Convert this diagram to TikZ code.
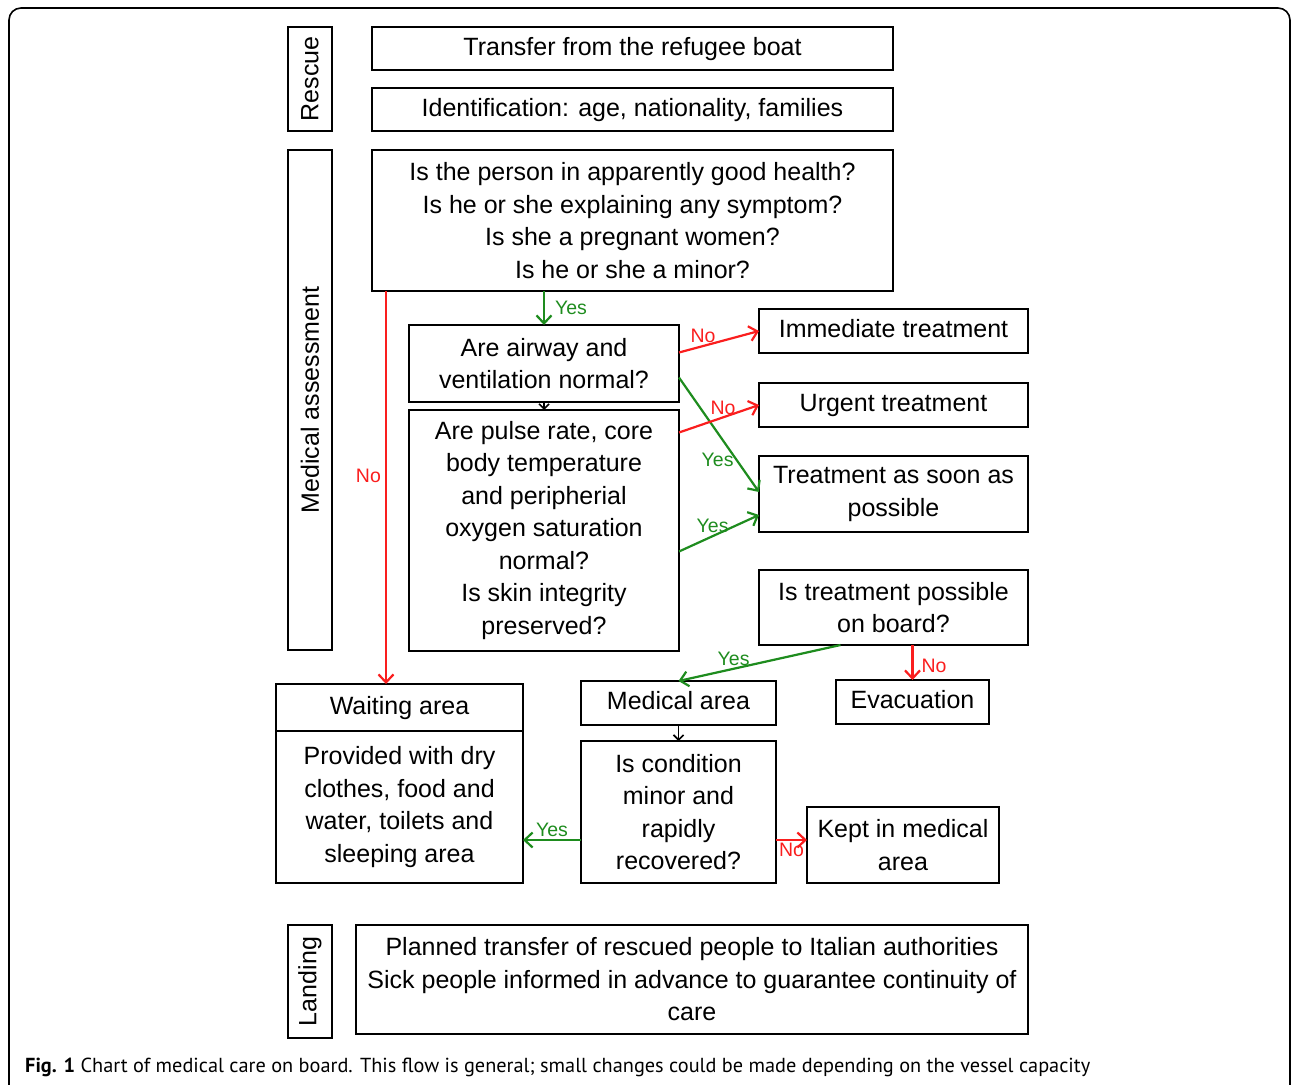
\documentclass[tikz,border=0pt]{standalone}
\usepackage{fontspec}
\setmainfont{Liberation Sans}
\newfontfamily\capfont{PT Sans}
\usetikzlibrary{arrows.meta,positioning}

\definecolor{nored}{RGB}{250,30,30}
\definecolor{yesgreen}{RGB}{30,140,30}

\begin{document}
\begin{tikzpicture}[x=1pt,y=-1pt,>={Straight Barb[length=8pt,width=15pt]},
        font=\fontsize{25}{32.5}\selectfont]
        \tikzstyle{box}=[draw, line width=2.2pt, align=center, inner sep=0pt, outer sep=0pt]
        \tikzstyle{side}=[box, rotate=90, minimum height=44pt]
        \tikzstyle{lbl}=[font=\fontsize{19.5}{21}\selectfont, inner sep=2pt]
        \tikzstyle{no}=[draw=nored, line width=2.2pt, ->]
        \tikzstyle{yes}=[draw=yesgreen, line width=2.2pt, ->]

        \useasboundingbox (0,0) rectangle (1292,1084);
        \begin{scope}
            \clip (0,0) rectangle (1292,1084);
            \draw[line width=1.6pt, rounded corners=12pt] (9,8) rectangle (1290,1110);
        \end{scope}

        % phases
        \node[side, minimum width=104pt] (resc) at (310,79)    {Rescue};
        \node[side, minimum width=500pt] (asse) at (310,400)   {Medical assessment};
        \node[side, minimum width=113pt] (land) at (310,981.5) {Landing};

        \node[box, minimum width=521pt, minimum height=43pt]  (tr)    at (632.5,48.5) {Transfer from the refugee boat\strut};
        \node[box, minimum width=521pt, minimum height=43pt]  (ident) [below=18pt of tr] {Identification: age, nationality, families\strut};
        \node[box, minimum width=521pt, minimum height=141pt] (q)     [below=19pt of ident]
            {Is the person in apparently good health?\\Is he or she explaining any symptom?\\Is she a pregnant women?\\Is he or she a minor?};

        \node[box, minimum width=270pt, minimum height=77pt]  (air)   at (544,363.5) {Are airway and\\ventilation normal?};
        \node[box, minimum width=270pt, minimum height=241pt] (pulse) at (544,530.5)
            {Are pulse rate, core\\body temperature\\and peripherial\\oxygen saturation\\normal?\\Is skin integrity\\preserved?};

        \node[box, minimum width=269pt, minimum height=44pt]  (imm)   at (893.5,331)   {Immediate treatment\strut};
        \node[box, minimum width=269pt, minimum height=44pt]  (urg)   at (893.5,405)   {Urgent treatment\strut};
        \node[box, minimum width=269pt, minimum height=76pt]  (asap)  at (893.5,494)   {Treatment as soon as\\possible};
        \node[box, minimum width=269pt, minimum height=75pt]  (board) at (893.5,607.5) {Is treatment possible\\on board?};

        \node[box, minimum width=247pt, minimum height=47pt]  (wait)  at (399.5,707.5) {Waiting area\strut};
        \node[box, minimum width=247pt, minimum height=152pt] (waitb) [below=0pt of wait]
            {Provided with dry\\clothes, food and\\water, toilets and\\sleeping area};
        \node[box, minimum width=195pt, minimum height=44pt]  (marea) at (678.5,703)   {Medical area\strut};
        \node[box, minimum width=153pt, minimum height=44pt]  (evac)  at (912.5,702)   {Evacuation\strut};
        \node[box, minimum width=195pt, minimum height=142pt] (cond)  at (678.5,812)   {Is condition\\minor and\\rapidly\\recovered?};
        \node[box, minimum width=192pt, minimum height=76pt]  (kept)  at (903,845)     {Kept in medical\\area};

        \node[box, minimum width=672pt, minimum height=109pt] (plan)  at (692,979.5)
            {Planned transfer of rescued people to Italian authorities\\Sick people informed in advance to guarantee continuity of\\care};

        \node[anchor=west, inner sep=0pt, font=\capfont\fontsize{20.3}{22}\selectfont] (cap) at (25,1067)
            {\textbf{Fig. 1} Chart of medical care on board. This flow is general; small changes could be made depending on the vessel capacity};

        \path
            ([xshift=14pt]q.south west) edge[no] node[lbl, pos=0.47, left, xshift=-2pt, text=nored] {No} ([xshift=14pt]q.south west |- wait.north)
            (q.south -| air.north) edge[yes] node[lbl, right, xshift=8pt, text=yesgreen] {Yes} (air.north)

            ([yshift=11pt]air.east)    edge[no]  node[lbl, pos=0.3, above, text=nored] {No} (imm.west)
            ([yshift=-14pt]air.east)   edge[yes] node[lbl, pos=0.72, left, text=yesgreen] {Yes} ([yshift=2pt]asap.west)
            ([yshift=98pt]pulse.east)  edge[no]  node[lbl, pos=0.55, above, text=nored] {No} (urg.west)
            ([yshift=-21pt]pulse.east) edge[yes] node[lbl, pos=0.42, above, text=yesgreen] {Yes} ([yshift=-21pt]asap.west)

            ([xshift=-53pt]board.south) edge[yes] node[lbl, pos=0.66, above, text=yesgreen] {Yes} (marea.north)
            (board.south -| evac.north) edge[no]  node[lbl, pos=0.6, right, xshift=6pt, text=nored] {No} (evac.north)

            ([yshift=-28pt]cond.west) edge[yes] node[lbl, above, text=yesgreen] {Yes} ([yshift=-28pt]cond.west -| waitb.east)
            ([yshift=-28pt]cond.east) edge[no]  node[lbl, below, text=nored] {No} ([yshift=-28pt]cond.east -| kept.west)
        ;
        \path[->, >={Straight Barb[length=5pt,width=10pt]}, line width=1.6pt]
            (air.south) edge (pulse.north)
            (marea.south) edge (cond.north)
        ;
    \end{tikzpicture}
\end{document}
